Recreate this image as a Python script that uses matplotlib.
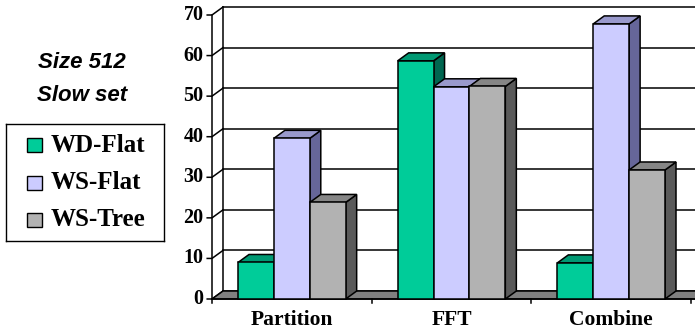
import numpy as np
import matplotlib.pyplot as plt
from matplotlib.patches import Polygon

categories = ['Partition', 'FFT', 'Combine']
series = ['WD-Flat', 'WS-Flat', 'WS-Tree']
wd_flat = [9.0, 58.7, 8.9]
ws_flat = [39.6, 52.3, 67.8]
ws_tree = [23.8, 52.4, 31.8]
y_ticks = [0, 10, 20, 30, 40, 50, 60, 70]

# face colours per series: front, top, side
faces = {
    'WD-Flat': ('#00CC99', '#009973', '#006650'),
    'WS-Flat': ('#CCCCFF', '#9999CC', '#666699'),
    'WS-Tree': ('#B2B2B2', '#868686', '#5A5A5A'),
}

W, H = 695, 333
fig = plt.figure(figsize=(W / 100, H / 100), dpi=100)
fig.patch.set_facecolor('white')

# front plane: x=0 at px 212, x=3 at px 691; y=0 at px 299, y=70 at px 15
x0, x1 = 212, 691
y0, y1 = 299, 15
ax = fig.add_axes([x0 / W, (H - y0) / H, (x1 - x0) / W, (y0 - y1) / H])
ax.set_xlim(0, 3)
ax.set_ylim(0, 70)
ax.axis('off')

# depth offset of the 3D box in data units
DX = 11 / ((x1 - x0) / 3)
DY = 8 / ((y0 - y1) / 70)
XMAX = 3 + DX
LW = 1.1

def poly(pts, fc, z, ec='black', lw=LW):
    ax.add_patch(Polygon(pts, closed=True, facecolor=fc, edgecolor=ec,
                         linewidth=lw, zorder=z, clip_on=False,
                         joinstyle='miter'))

# back wall gridlines and left wall diagonals
for t in y_ticks:
    ax.plot([DX, XMAX + 0.2], [t + DY, t + DY], color='black', lw=LW,
            zorder=1, clip_on=False)
    ax.plot([-0.03, 0, DX], [t, t, t + DY], color='black', lw=LW,
            zorder=1, clip_on=False)
    ax.text(-0.052, t, str(t), ha='right', va='center', fontsize=14.5,
            fontweight='bold', family='Liberation Serif')

# wall edges
ax.plot([0, 0], [0, 70], color='black', lw=LW, zorder=1, clip_on=False)
ax.plot([DX, DX], [DY, 70 + DY], color='black', lw=LW, zorder=1, clip_on=False)

# floor
poly([(0, 0), (DX, DY), (XMAX + 0.2, DY), (3.2, 0)], '#808080', 2)

# front axis with category ticks
ax.plot([0, 3.2], [0, 0], color='black', lw=LW, zorder=2, clip_on=False)
for i in range(4):
    ax.plot([i, i], [0, -1.1], color='black', lw=LW, zorder=2, clip_on=False)
for i, c in enumerate(categories):
    ax.text(i + 0.5, -5.2, c, ha='center', va='center', fontsize=15.5,
            fontweight='bold', family='Liberation Serif')

# bars, drawn left to right so later fronts hide earlier sides
start = (238 - x0) / ((x1 - x0) / 3)
bw = (1 - 2 * start) / 3
values = [wd_flat, ws_flat, ws_tree]
z = 3
for i in range(len(categories)):
    for s, name in enumerate(series):
        v = values[s][i]
        front, top, side = faces[name]
        l = i + start + s * bw
        r = l + bw
        poly([(r, 0), (r + DX, DY), (r + DX, v + DY), (r, v)], side, z)
        poly([(l, v), (l + DX, v + DY), (r + DX, v + DY), (r, v)], top, z)
        poly([(l, 0), (r, 0), (r, v), (l, v)], front, z)
        z += 1

# title text
fig.text(82 / W, 1 - 63 / H, 'Size 512', ha='center', va='center',
         fontsize=16, fontweight='bold', style='italic', family='Liberation Sans')
fig.text(82 / W, 1 - 96 / H, 'Slow set', ha='center', va='center',
         fontsize=16, fontweight='bold', style='italic', family='Liberation Sans')

# legend box
lax = fig.add_axes([6 / W, 1 - 241 / H, 158 / W, 117 / H])
lax.set_xlim(0, 158)
lax.set_ylim(117, 0)
lax.set_xticks([])
lax.set_yticks([])
for sp in lax.spines.values():
    sp.set_linewidth(1.0)
for k, name in enumerate(series):
    cy = 21 + k * 37.5
    lax.add_patch(plt.Rectangle((21, cy - 7), 15, 14, facecolor=faces[name][0],
                                edgecolor='black', linewidth=1.0))
    lax.text(45, cy, name, ha='left', va='center', fontsize=18,
             fontweight='bold', family='Liberation Serif')

fig.savefig('out.png', dpi=100)
